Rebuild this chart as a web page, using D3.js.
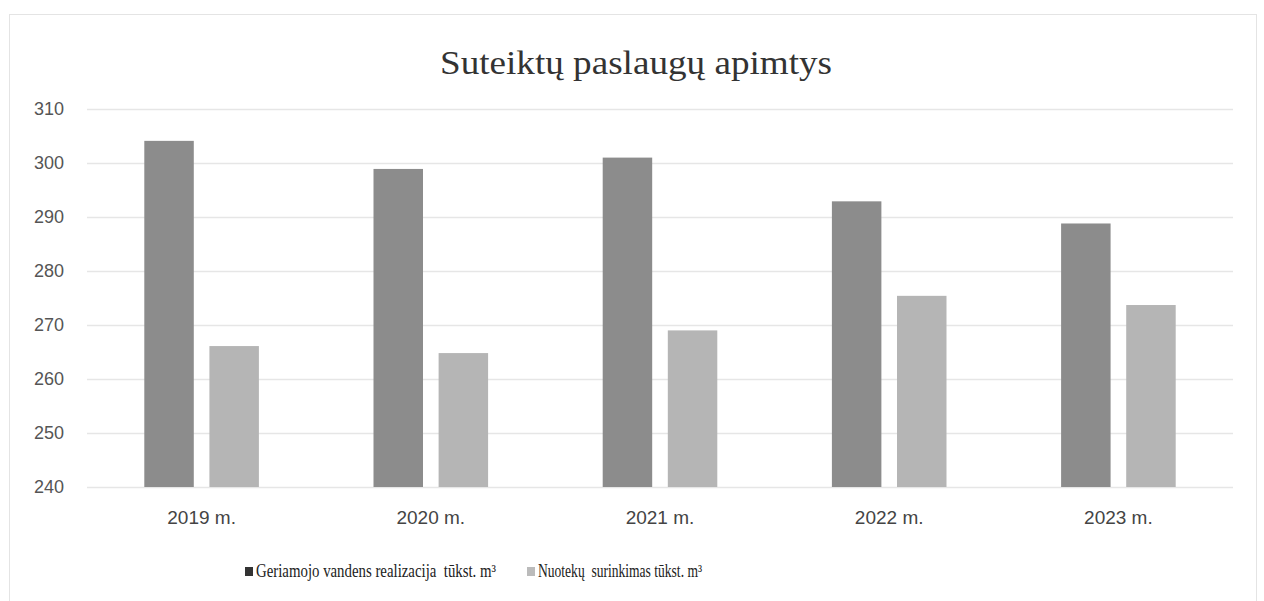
<!DOCTYPE html>
<html>
<head>
<meta charset="utf-8">
<script src="https://cdn.jsdelivr.net/npm/d3@7"></script>
<style>
  body { margin: 0; background: #fff; }
  svg { display: block; }
</style>
</head>
<body>
<div id="chart"></div>
<script>
const years = ['2019 m.', '2020 m.', '2021 m.', '2022 m.', '2023 m.']
const water = [304.1, 298.9, 301.0, 292.9, 288.8]
const sewage = [266.1, 264.8, 269.0, 275.4, 273.7]
const seriesNames = ['Geriamojo vandens realizacija  tūkst. m³', 'Nuotekų  surinkimas tūkst. m³']
const yTicks = [240, 250, 260, 270, 280, 290, 300, 310]

const W = 1264, H = 601
const margin = { top: 109, right: 31, bottom: 114, left: 87 }

const svg = d3.select('#chart').append('svg')
    .attr('width', W)
    .attr('height', H)

// chart frame
svg.append('rect')
    .attr('x', 9.5).attr('y', 14.5)
    .attr('width', 1247).attr('height', 600)
    .attr('fill', 'none')
    .attr('stroke', '#e4e4e4')

const x = d3.scaleBand()
    .domain(years)
    .range([margin.left, W - margin.right])

const inner = d3.scaleBand()
    .domain([0, 1])
    .range([0, x.bandwidth() * 0.5])
    .paddingInner(0.24)

const y = d3.scaleLinear()
    .domain([240, 310])
    .range([H - margin.bottom, margin.top])

// grid
svg.append('g')
    .attr('transform', `translate(${margin.left},0)`)
    .call(d3.axisLeft(y).tickValues(yTicks).tickSize(-(W - margin.left - margin.right)).tickFormat(''))
    .call(g => g.select('.domain').remove())
    .call(g => g.selectAll('line').attr('stroke', '#e6e6e6').attr('stroke-width', 1.5))

// y labels
svg.append('g')
    .attr('transform', `translate(${margin.left - 20},0)`)
    .call(d3.axisLeft(y).tickValues(yTicks).tickSize(0))
    .call(g => g.select('.domain').remove())
    .call(g => g.selectAll('text')
        .attr('font-family', 'Liberation Sans, Arial, sans-serif')
        .attr('font-size', 18)
        .attr('fill', '#555'))

const colors = ['#8c8c8c', '#b5b5b5']
const offset = x.bandwidth() * 0.25
const data = years.map((yr, i) => ({ yr, vals: [water[i], sewage[i]] }))

const groups = svg.selectAll('.grp')
    .data(data)
    .enter()
    .append('g')
    .attr('class', 'grp')
    .attr('transform', d => `translate(${x(d.yr) + offset},0)`)

groups.selectAll('rect')
    .data(d => d.vals)
    .enter()
    .append('rect')
    .attr('x', (v, i) => inner(i))
    .attr('width', inner.bandwidth())
    .attr('y', v => y(v))
    .attr('height', v => y(240) - y(v))
    .attr('fill', (v, i) => colors[i])

// x labels
svg.append('g')
    .attr('transform', `translate(0,${H - margin.bottom + 20})`)
    .call(d3.axisBottom(x).tickSize(0))
    .call(g => g.select('.domain').remove())
    .call(g => g.selectAll('text')
        .attr('font-family', 'Liberation Sans, Arial, sans-serif')
        .attr('font-size', 19)
        .attr('fill', '#444'))

// title
svg.append('text')
    .attr('x', 636).attr('y', 74)
    .attr('text-anchor', 'middle')
    .attr('font-family', 'Liberation Serif, Times New Roman, serif')
    .attr('font-size', 34)
    .attr('fill', '#333')
    .attr('textLength', 392)
    .attr('lengthAdjust', 'spacingAndGlyphs')
    .text('Suteiktų paslaugų apimtys')

// legend
const legendX = [245, 527]
const legendW = [240, 164]
const legend = svg.selectAll('.leg')
    .data(seriesNames)
    .enter()
    .append('g')
    .attr('class', 'leg')
    .attr('transform', (d, i) => `translate(${legendX[i]},567)`)

legend.append('rect')
    .attr('width', 8).attr('height', 9)
    .attr('fill', (d, i) => i === 0 ? '#333' : '#bbb')

legend.append('text')
    .attr('x', 11).attr('y', 10)
    .attr('font-family', 'Liberation Serif, Times New Roman, serif')
    .attr('font-size', 18)
    .attr('fill', '#222')
    .attr('textLength', (d, i) => legendW[i])
    .attr('lengthAdjust', 'spacingAndGlyphs')
    .style('white-space', 'pre')
    .text(d => d)
</script>
</body>
</html>
